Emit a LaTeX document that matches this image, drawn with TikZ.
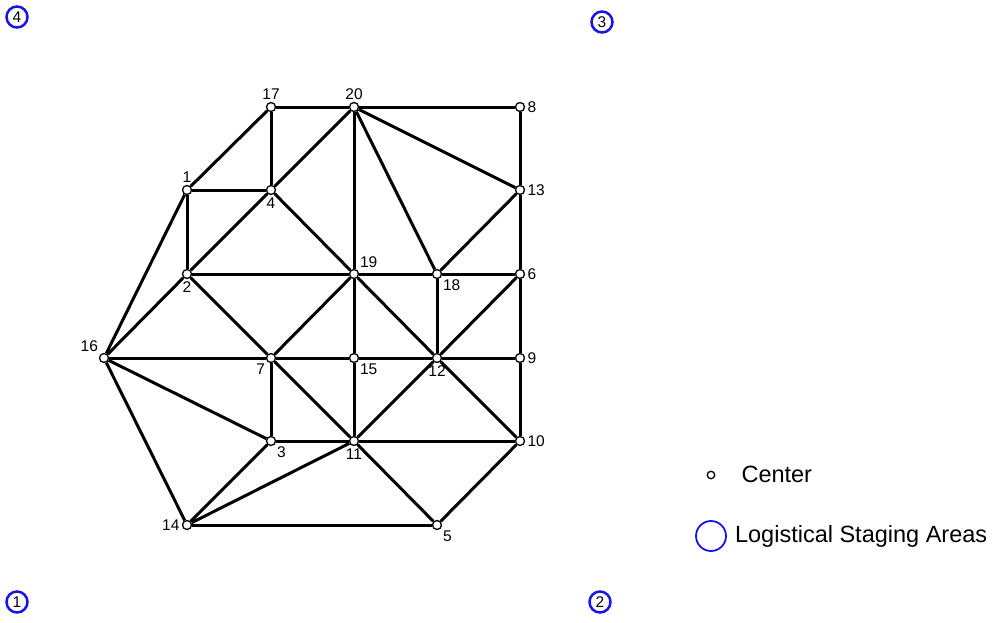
\documentclass[tikz,border=0pt]{standalone}
\usepackage{fontspec}
\setmainfont{Liberation Sans}
\newcommand{\numfont}{\fontsize{15.5}{18}\selectfont}
\newcommand{\legfont}{\fontsize{23.5}{28}\selectfont}
\definecolor{lsablue}{RGB}{20,20,235}
\tikzset{
  ctr/.style={circle,draw=black,fill=white,line width=1.3pt,inner sep=0pt,minimum size=9pt},
  lsa/.style={circle,draw=lsablue,line width=2.5pt,inner sep=0pt,minimum size=21pt,font=\numfont},
  link/.style={line width=3pt},
  every label/.style={font=\numfont,inner sep=2.2pt}
}

\begin{document}
\begin{tikzpicture}[x=1pt,y=-1pt]
  \useasboundingbox (0,0) rectangle (992,622);
  % centers
  \node[ctr,label=above:17]       (n17) at (271,107) {};
  \node[ctr,label=above:20]       (n20) at (354,107) {};
  \node[ctr,label=right:8]        (n8)  at (520,107) {};
  \node[ctr,label=above:1]        (n1)  at (187,190) {};
  \node[ctr,label=below:4]        (n4)  at (271,190) {};
  \node[ctr,label=right:13]       (n13) at (520,190) {};
  \node[ctr,label=below:2]        (n2)  at (187,274) {};
  \node[ctr,label=above right:19] (n19) at (354,274) {};
  \node[ctr,label=below right:18] (n18) at (437,274) {};
  \node[ctr,label=right:6]        (n6)  at (520,274) {};
  \node[ctr,label=above left:16]  (n16) at (104,358) {};
  \node[ctr,label=below left:7]   (n7)  at (271,358) {};
  \node[ctr,label=below right:15] (n15) at (354,358) {};
  \node[ctr,label=below:12]       (n12) at (437,358) {};
  \node[ctr,label=right:9]        (n9)  at (520,358) {};
  \node[ctr,label=below right:3]  (n3)  at (271,441) {};
  \node[ctr,label=below:11]       (n11) at (354,441) {};
  \node[ctr,label=right:10]       (n10) at (520,441) {};
  \node[ctr,label=left:14]        (n14) at (187,525) {};
  \node[ctr,label=below right:5]  (n5)  at (437,525) {};
  % links
  \foreach \a/\b in {17/20,20/8,17/1,17/4,1/4,4/20,1/2,1/16,2/4,20/19,20/18,20/13,
    8/13,13/18,13/6,2/19,19/18,18/6,4/19,2/16,2/7,19/7,19/15,19/12,18/12,6/12,6/9,
    16/7,7/15,15/12,12/9,16/3,16/14,7/3,7/11,15/11,12/11,12/10,9/10,3/11,11/10,
    3/14,11/14,11/5,10/5,14/5}
    \draw[link] (n\a) -- (n\b);
  % staging areas
  \node[lsa] (s4) at (17,17)   {4};
  \node[lsa] (s3) at (602,22)  {3};
  \node[lsa] (s1) at (17,602)  {1};
  \node[lsa] (s2) at (600,602) {2};
  % legend
  \node[ctr,minimum size=7.5pt] (kc) at (711,475) {};
  \node[anchor=west,font=\legfont] (kct) at (738,474) {Center};
  \node[lsa,minimum size=30pt,line width=1.8pt] (ks) at (711,536) {};
  \node[anchor=west,font=\legfont,inner sep=0pt] (kst) at ([xshift=8pt]ks.east) {Logistical Staging Areas};
\end{tikzpicture}
\end{document}
